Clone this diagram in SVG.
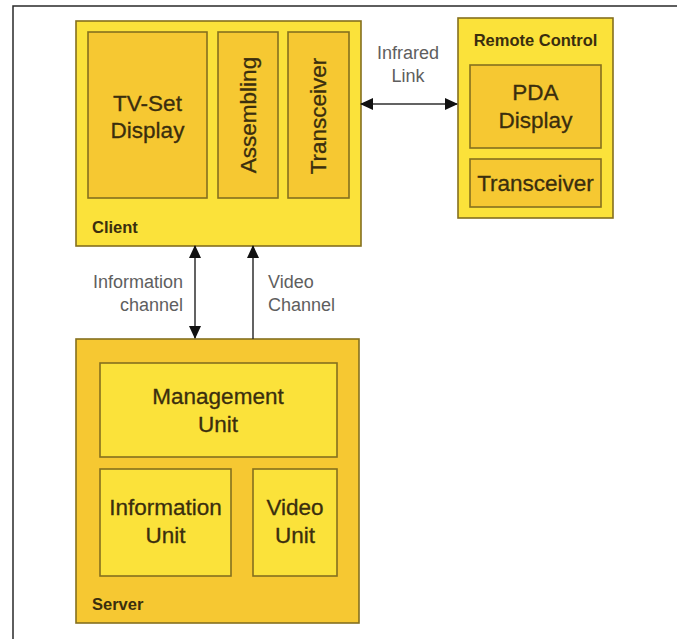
<svg xmlns="http://www.w3.org/2000/svg" width="677" height="639" viewBox="0 0 677 639">
  <style>
    .frame { stroke: #2a2a2a; stroke-width: 1.5; fill: none; }
    .light { fill: #fbe23a; stroke: #85701f; stroke-width: 1.6; }
    .dark { fill: #f6c832; stroke: #85701f; stroke-width: 1.6; }
    .txt { font-family: "Liberation Sans", Arial, sans-serif; font-size: 22.5px; fill: #3a2e0e; text-anchor: middle; stroke: #3a2e0e; stroke-width: 0.3; }
    .ttl { font-family: "Liberation Sans", Arial, sans-serif; font-size: 16.5px; font-weight: bold; fill: #3a2e0e; }
    .lbl { font-family: "Liberation Sans", Arial, sans-serif; font-size: 18px; fill: #5e5e5e; }
    .wire { stroke: #2f2f2f; stroke-width: 1.5; fill: none; }
  </style>
  <defs>
    <marker id="head" viewBox="0 0 13 12" refX="12" refY="6" markerWidth="13" markerHeight="12" markerUnits="userSpaceOnUse" orient="auto-start-reverse">
      <path d="M0,0 L13,6 L0,12 Z" fill="#111111"/>
    </marker>
  </defs>

  <rect width="677" height="639" fill="#ffffff"/>
  <path class="frame" d="M13,639 L13,6 L677,6"/>

  <g id="client">
    <rect class="light" x="76" y="21" width="285" height="225"/>
    <text class="ttl" x="92" y="233">Client</text>
  </g>
  <g id="tv-set-display">
    <rect class="dark" x="88" y="32" width="119" height="166"/>
    <text class="txt" x="147.5" y="111">TV-Set</text>
    <text class="txt" x="147.5" y="138">Display</text>
  </g>
  <g id="assembling">
    <rect class="dark" x="218" y="32" width="60" height="166"/>
    <text class="txt" transform="translate(256,115) rotate(-90)" x="0" y="0">Assembling</text>
  </g>
  <g id="client-transceiver">
    <rect class="dark" x="288" y="32" width="61" height="166"/>
    <text class="txt" transform="translate(326,116) rotate(-90)" x="0" y="0">Transceiver</text>
  </g>

  <g id="remote-control">
    <rect class="light" x="458" y="18" width="155" height="200"/>
    <text class="ttl" x="535.5" y="46" text-anchor="middle">Remote Control</text>
  </g>
  <g id="pda-display">
    <rect class="dark" x="470" y="65" width="131" height="83"/>
    <text class="txt" x="535.5" y="100">PDA</text>
    <text class="txt" x="535.5" y="128">Display</text>
  </g>
  <g id="remote-transceiver">
    <rect class="dark" x="470" y="159" width="131" height="48"/>
    <text class="txt" x="535.5" y="191">Transceiver</text>
  </g>

  <g id="server">
    <rect class="dark" x="76" y="339" width="283" height="284"/>
    <text class="ttl" x="92" y="610">Server</text>
  </g>
  <g id="management-unit">
    <rect class="light" x="100" y="363" width="237" height="94"/>
    <text class="txt" x="218" y="404">Management</text>
    <text class="txt" x="218" y="432">Unit</text>
  </g>
  <g id="information-unit">
    <rect class="light" x="100" y="469" width="131" height="107"/>
    <text class="txt" x="165.5" y="515">Information</text>
    <text class="txt" x="165.5" y="543">Unit</text>
  </g>
  <g id="video-unit">
    <rect class="light" x="253" y="469" width="84" height="107"/>
    <text class="txt" x="295" y="515">Video</text>
    <text class="txt" x="295" y="543">Unit</text>
  </g>

  <g id="connectors">
    <line class="wire" x1="361" y1="104" x2="457" y2="104" marker-start="url(#head)" marker-end="url(#head)"/>
    <line class="wire" x1="195" y1="246" x2="195" y2="338" marker-start="url(#head)" marker-end="url(#head)"/>
    <line class="wire" x1="253" y1="339" x2="253" y2="246" marker-end="url(#head)"/>
    <text class="lbl" x="408" y="59" text-anchor="middle">Infrared</text>
    <text class="lbl" x="408" y="82" text-anchor="middle">Link</text>
    <text class="lbl" x="183" y="288" text-anchor="end">Information</text>
    <text class="lbl" x="183" y="311" text-anchor="end">channel</text>
    <text class="lbl" x="268" y="288">Video</text>
    <text class="lbl" x="268" y="311">Channel</text>
  </g>
</svg>
